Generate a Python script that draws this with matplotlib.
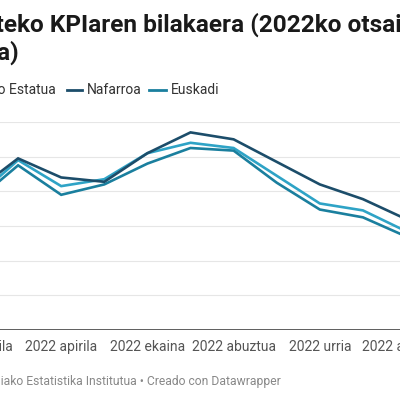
import matplotlib
matplotlib.use("Agg")
import matplotlib.pyplot as plt
from matplotlib.lines import Line2D

plt.rcParams['font.family'] = ['Roboto', 'DejaVu Sans']

hilabeteak = ['2022 otsaila', '2022 martxoa', '2022 apirila', '2022 maiatza',
              '2022 ekaina', '2022 uztaila', '2022 abuztua', '2022 iraila',
              '2022 urria', '2022 azaroa', '2022 abendua']
estatua = [7.6, 9.8, 8.3, 8.7, 10.2, 10.8, 10.5, 8.9, 7.3, 6.9, 5.7]
nafarroa = [8.0, 9.9, 8.8, 8.55, 10.2, 11.4, 11.0, 9.7, 8.4, 7.55, 6.4]
euskadi = [7.4, 9.5, 7.8, 8.4, 9.6, 10.5, 10.35, 8.5, 6.95, 6.5, 5.4]

c_estatua = '#2ea3c6'
c_nafarroa = '#1c4d6a'
c_euskadi = '#1a7f9e'

W = 400.0
fig = plt.figure(figsize=(4, 4), dpi=100)
fig.patch.set_facecolor('white')

def fx(px):
    return px / W

def fy(py):
    return 1 - py / W

# ardatzak: otsaila x=-25px, abendua x=406px ; 0 -> y=330px, 12 -> y=122px
ax = fig.add_axes([fx(-25), fy(330), fx(431), (330 - 122) / W])
x = list(range(len(hilabeteak)))
ax.plot(x, estatua, color=c_estatua, lw=1.9, solid_joinstyle='miter', zorder=3)
ax.plot(x, euskadi, color=c_euskadi, lw=1.9, solid_joinstyle='miter', zorder=3)
ax.plot(x, nafarroa, color=c_nafarroa, lw=1.9, solid_joinstyle='miter', zorder=4)

ax.set_xlim(0, len(hilabeteak) - 1)
ax.set_ylim(0, 12)
ax.set_yticks([2, 4, 6, 8, 10, 12])
ax.yaxis.grid(True, color='#e6e6e6', lw=0.8)
ax.tick_params(axis='y', length=0, labelleft=False)
ax.axhline(0, color='#333333', lw=1.1, zorder=5)
ax.set_xticks(x[::2])
ax.set_xticklabels(hilabeteak[::2], fontsize=10, color='#555555')
ax.tick_params(axis='x', length=0, pad=7)
for s in ax.spines.values():
    s.set_visible(False)
ax.set_facecolor('none')

# izenburua
fig.text(fx(-79), fy(32), 'Urte arteko KPIaren bilakaera (2022ko otsaila -',
         fontsize=17.6, fontweight='bold', color='#1a1a1a', va='baseline')
fig.text(fx(19), fy(60), 'abendua)',
         fontsize=17.6, fontweight='bold', color='#1a1a1a', va='baseline', ha='right')

# legenda
fig.text(fx(56), fy(90), 'Espainiako Estatua', fontsize=10, color='#333333',
         ha='right', va='center')
fig.add_artist(Line2D([fx(67), fx(82)], [fy(90), fy(90)], color=c_nafarroa, lw=2))
fig.text(fx(87), fy(90), 'Nafarroa', fontsize=10, color='#333333', va='center')
fig.add_artist(Line2D([fx(149), fx(166)], [fy(90), fy(90)], color=c_euskadi, lw=2))
fig.text(fx(171), fy(90), 'Euskadi', fontsize=10, color='#333333', va='center')

# oina
fig.text(fx(281), fy(382), 'Iturria: Espainiako Estatistika Institutua • Creado con Datawrapper',
         fontsize=8.7, color='#888888', ha='right', va='center')

fig.savefig('out.png', dpi=100)
